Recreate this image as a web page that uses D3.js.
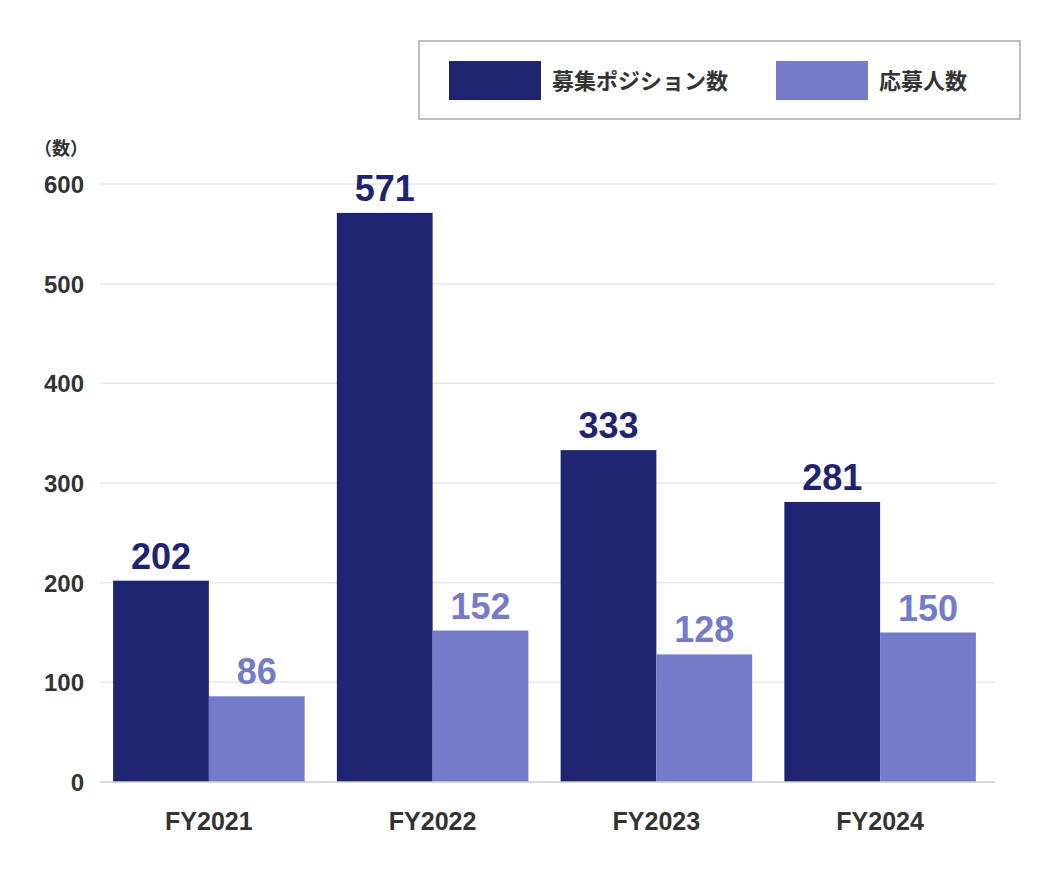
<!DOCTYPE html>
<html>
<head>
<meta charset="utf-8">
<script src="https://cdn.jsdelivr.net/npm/d3@7"></script>
<style>
  body { margin: 0; background: #fff; }
  text { font-family: "Liberation Sans", "Noto Sans CJK JP", sans-serif; font-weight: bold; }
</style>
</head>
<body>
<div id="chart"></div>
<script>
const categories = ['FY2021', 'FY2022', 'FY2023', 'FY2024'];
const seriesNames = ['募集ポジション数', '応募人数'];
const positions = [202, 571, 333, 281];
const applicants = [86, 152, 128, 150];
const yTicks = [0, 100, 200, 300, 400, 500, 600];
const colors = ['#1f2471', '#747bc8'];

const width = 1040, height = 880;
const svg = d3.select('#chart').append('svg')
  .attr('width', width).attr('height', height);

const x = d3.scaleBand().domain(categories).range([97, 992])
  .paddingInner(0.144).paddingOuter(0.072);
const xs = d3.scaleBand().domain([0, 1]).range([0, x.bandwidth()]);
const y = d3.scaleLinear().domain([0, 600]).range([782, 184]);

// grid
svg.append('g').selectAll('line').data(yTicks.slice(1)).join('line')
  .attr('x1', 100).attr('x2', 995)
  .attr('y1', d => y(d)).attr('y2', d => y(d))
  .attr('stroke', '#e8e8e8').attr('stroke-width', 1.5);

// y labels
svg.append('g').selectAll('text').data(yTicks).join('text')
  .attr('x', 84).attr('y', d => y(d) + 9)
  .attr('text-anchor', 'end').attr('font-size', 24).attr('fill', '#333')
  .text(d => d);

svg.append('text').attr('x', 34).attr('y', 155)
  .attr('font-size', 18).attr('fill', '#333')
  .style('font-family', '"Noto Sans CJK JP", sans-serif').text('（数）');

const data = categories.map((c, i) => ({ c, vals: [positions[i], applicants[i]] }));
const g = svg.append('g').selectAll('g').data(data).join('g')
  .attr('transform', d => `translate(${x(d.c)},0)`);

g.selectAll('rect').data(d => d.vals).join('rect')
  .attr('x', (d, i) => xs(i)).attr('width', xs.bandwidth())
  .attr('y', d => y(d)).attr('height', d => y(0) - y(d))
  .attr('fill', (d, i) => colors[i]);

g.selectAll('text.val').data(d => d.vals).join('text')
  .attr('class', 'val')
  .attr('x', (d, i) => xs(i) + xs.bandwidth() / 2).attr('y', d => y(d) - 12)
  .attr('text-anchor', 'middle').attr('font-size', 36)
  .attr('fill', (d, i) => colors[i]).text(d => d);

// x axis line
svg.append('line').attr('x1', 100).attr('x2', 995)
  .attr('y1', y(0)).attr('y2', y(0)).attr('stroke', '#ccc').attr('stroke-width', 1.5);

svg.append('g').selectAll('text').data(categories).join('text')
  .attr('x', d => x(d) + x.bandwidth() / 2).attr('y', 830)
  .attr('text-anchor', 'middle').attr('font-size', 25).attr('fill', '#333')
  .text(d => d);

// legend
svg.append('rect').attr('x', 419).attr('y', 41).attr('width', 601).attr('height', 78)
  .attr('fill', '#fff').attr('stroke', '#aaa').attr('stroke-width', 1.5);
const lx = [449, 776];
seriesNames.forEach((s, i) => {
  svg.append('rect').attr('x', lx[i]).attr('y', 61).attr('width', 92).attr('height', 39)
    .attr('fill', colors[i]);
  svg.append('text').attr('x', lx[i] + 103).attr('y', 89)
    .attr('font-size', 22).attr('fill', '#333')
    .style('font-family', '"Noto Sans CJK JP", sans-serif').text(s);
});
</script>
</body>
</html>
